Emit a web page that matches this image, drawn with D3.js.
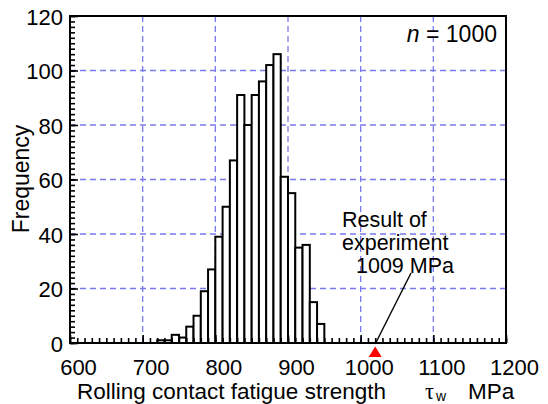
<!DOCTYPE html>
<html>
<head>
<meta charset="utf-8">
<script src="https://cdn.jsdelivr.net/npm/d3@7"></script>
<style>
  body { margin: 0; background: #fff; }
  text { font-family: "Liberation Sans", Arial, Helvetica, sans-serif; fill: #000; }
</style>
</head>
<body>
<svg width="548" height="404"></svg>
<script>
// histogram data: bin start (MPa), bin width 10, counts
const binStarts = [720, 730, 740, 750, 760, 770, 780, 790, 800, 810, 820, 830,
  840, 850, 860, 870, 880, 890, 900, 910, 920, 930, 940]
const counts = [1, 1, 3, 2, 6, 10, 19, 27, 39, 50, 67, 91,
  80, 91, 96, 102, 106, 61, 55, 35, 36, 15, 7]
const binWidth = 10
const xTicks = [600, 700, 800, 900, 1000, 1100, 1200]
const yTicks = [0, 20, 40, 60, 80, 100, 120]
const experiment = 1009

const svg = d3.select('svg')
const mLeft = 70, mRight = 506, mTop = 16, mBottom = 343
const labelShift = 8

const x = d3.scaleLinear().domain([600, 1200]).range([mLeft, mRight])
const y = d3.scaleLinear().domain([0, 120]).range([mBottom, mTop])

const data = binStarts.map((b, i) => ({ x0: b, x1: b + binWidth, n: counts[i] }))

// grid
const grid = svg.append('g')
  .attr('stroke', '#7a7af0')
  .attr('stroke-width', 1.3)
  .attr('stroke-dasharray', '6,4')
grid.selectAll('line.v')
  .data(xTicks.slice(1, -1))
  .enter()
  .append('line')
  .attr('x1', d => x(d)).attr('x2', d => x(d))
  .attr('y1', mTop).attr('y2', mBottom)
grid.selectAll('line.h')
  .data(yTicks.slice(1, -1))
  .enter()
  .append('line')
  .attr('x1', mLeft).attr('x2', mRight)
  .attr('y1', d => y(d)).attr('y2', d => y(d))

// bars
svg.append('g')
  .selectAll('rect')
  .data(data)
  .enter()
  .append('rect')
  .attr('x', d => x(d.x0))
  .attr('width', d => x(d.x1) - x(d.x0))
  .attr('y', d => y(d.n))
  .attr('height', d => y(0) - y(d.n))
  .attr('fill', '#fff')
  .attr('stroke', '#000')
  .attr('stroke-width', 2)

// axes (ticks pointing inward)
const xMinor = svg.append('g')
  .attr('transform', `translate(0,${mBottom})`)
  .call(d3.axisBottom(x).tickValues(d3.range(600, 1201, 10)).tickSize(-5).tickFormat(''))
const xMajor = svg.append('g')
  .attr('transform', `translate(0,${mBottom})`)
  .call(d3.axisBottom(x).tickValues(xTicks).tickSize(-8).tickPadding(16).tickFormat(d3.format('d')))
const yMinor = svg.append('g')
  .attr('transform', `translate(${mLeft},0)`)
  .call(d3.axisLeft(y).tickValues(d3.range(0, 121, 2)).tickSize(-5).tickFormat(''))
const yMajor = svg.append('g')
  .attr('transform', `translate(${mLeft},0)`)
  .call(d3.axisLeft(y).tickValues(yTicks).tickSize(-8).tickPadding(7).tickFormat(d3.format('d')))

;[xMinor, xMajor, yMinor, yMajor].forEach(g => {
  g.select('.domain').remove()
  g.selectAll('.tick line').attr('stroke', '#000').attr('stroke-width', 1.6)
  g.selectAll('.tick text')
    .style('font-family', '"Liberation Sans", Arial, sans-serif')
    .style('font-size', '22px')
    .attr('fill', '#000')
})
xMajor.selectAll('.tick text').attr('x', labelShift)
yMajor.selectAll('.tick text').attr('dy', '0.38em')

// frame
svg.append('rect')
  .attr('x', mLeft).attr('y', mTop)
  .attr('width', mRight - mLeft).attr('height', mBottom - mTop)
  .attr('fill', 'none')
  .attr('stroke', '#000')
  .attr('stroke-width', 2)

// axis titles
svg.append('text')
  .attr('transform', 'translate(29,179) rotate(-90)')
  .attr('text-anchor', 'middle')
  .style('font-size', '23px')
  .text('Frequency')

const xt = svg.append('g').style('font-size', '22.5px')
xt.append('text').attr('x', 77).attr('y', 399).text('Rolling contact fatigue strength')
xt.append('text').attr('x', 425).attr('y', 399)
  .style('font-family', '"Liberation Serif", "DejaVu Serif", serif').text('τ')
xt.append('text').attr('x', 436).attr('y', 401)
  .style('font-size', '14px').text('w')
xt.append('text').attr('x', 468).attr('y', 399).text('MPa')

// n = 1000
const nt = svg.append('text')
  .attr('x', 497).attr('y', 42)
  .attr('text-anchor', 'end')
  .style('font-size', '23px')
nt.append('tspan').style('font-style', 'italic').text('n')
nt.append('tspan').text(' = 1000')

// experiment marker
const ex = x(experiment) + labelShift
svg.append('path')
  .attr('d', `M${ex},${mBottom + 3.5} L${ex + 6.5},${mBottom + 14} L${ex - 6.5},${mBottom + 14} Z`)
  .attr('fill', '#f00')
svg.append('line')
  .attr('x1', ex).attr('y1', mBottom + 1)
  .attr('x2', 411).attr('y2', 273)
  .attr('stroke', '#000')
  .attr('stroke-width', 1.4)

const note = svg.append('g').style('font-size', '21.5px')
note.append('text').attr('x', 342).attr('y', 227).text('Result of')
note.append('text').attr('x', 342).attr('y', 250).text('experiment')
note.append('text').attr('x', 356).attr('y', 273).text(`${experiment} MPa`)
</script>
</body>
</html>
